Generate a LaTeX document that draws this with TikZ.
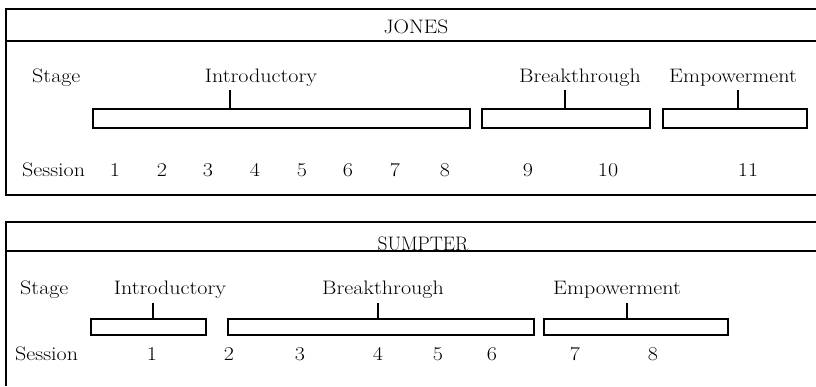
\documentclass[tikz,border=0pt]{standalone}
\usepackage{graphicx}
\newcommand\sx[1]{\scalebox{1.13}[1]{#1}}
\begin{document}
\begin{tikzpicture}[x=1pt,y=-1pt,
  frame/.style={line width=1.6pt},
  stagebar/.style={draw, line width=1.4pt, inner sep=0pt},
  lbl/.style={font=\fontsize{19.5}{22}\selectfont, inner sep=0pt, anchor=base},
  lblw/.style={lbl, anchor=base west},
  ttl/.style={font=\fontsize{19.5}{22}\selectfont, inner sep=0pt, anchor=base},
  tickln/.style={line width=1.2pt}]
\useasboundingbox (0,0) rectangle (816,386);
% ---------------- JONES ----------------
\draw[frame] (816,9) -- (6,9) -- (6,195) -- (816,195);
\draw[frame] (6,41) -- (816,41);
\node[ttl] (jtitle) at (416,33) {\scalebox{1.1}[1]{JONES}};
\node[lblw] (jstage) at (32,82) {\sx{Stage}};
\node[lbl] (jintro) at (261,82) {\sx{Introductory}};
\node[lbl] (jbreak) at (580,82) {\sx{Breakthrough}};
\node[lbl] (jemp) at (733,82) {\sx{Empowerment}};
\node[stagebar, minimum width=377pt, minimum height=19pt] (jb1) at (281.5,118.5) {};
\node[stagebar, minimum width=168pt, minimum height=19pt] (jb2) at (566,118.5) {};
\node[stagebar, minimum width=144pt, minimum height=19pt] (jb3) at (735,118.5) {};
\coordinate (jt1) at (230,90);
\coordinate (jt2) at (565,90);
\coordinate (jt3) at (738,90);
\draw[tickln] (jt1) -- (jt1 |- jb1.north);
\draw[tickln] (jt2) -- (jt2 |- jb2.north);
\draw[tickln] (jt3) -- (jt3 |- jb3.north);
\node[lblw] (jsess) at (22,176) {\sx{Session}};
\foreach \n/\x in {1/115,2/162,3/208,4/255,5/302,6/348,7/395,8/445,9/528,10/608,11/748}
  \node[lbl] (jn\n) at (\x,176) {\sx{\n}};
% ---------------- SUMPTER ----------------
\draw[frame] (816,222) -- (6,222) -- (6,386);
\draw[frame] (6,251) -- (816,251);
\node[ttl] (stitle) at (423,250) {SUMPTER};
\node[lblw] (sstage) at (20,294) {\sx{Stage}};
\node[lbl] (sintro) at (170,294) {\sx{Introductory}};
\node[lbl] (sbreak) at (383,294) {\sx{Breakthrough}};
\node[lbl] (semp) at (617,294) {\sx{Empowerment}};
\node[stagebar, minimum width=115pt, minimum height=16pt] (sb1) at (148.5,327) {};
\node[stagebar, minimum width=306pt, minimum height=16pt] (sb2) at (381,327) {};
\node[stagebar, minimum width=184pt, minimum height=16pt] (sb3) at (636,327) {};
\coordinate (st1) at (153,303);
\coordinate (st2) at (378,303);
\coordinate (st3) at (627,303);
\draw[tickln] (st1) -- (st1 |- sb1.north);
\draw[tickln] (st2) -- (st2 |- sb2.north);
\draw[tickln] (st3) -- (st3 |- sb3.north);
\node[lblw] (ssess) at (15,360) {\sx{Session}};
\foreach \n/\x in {1/152,2/229,3/300,4/378,5/438,6/492,7/575,8/653}
  \node[lbl] (sn\n) at (\x,360) {\sx{\n}};
\end{tikzpicture}
\end{document}
